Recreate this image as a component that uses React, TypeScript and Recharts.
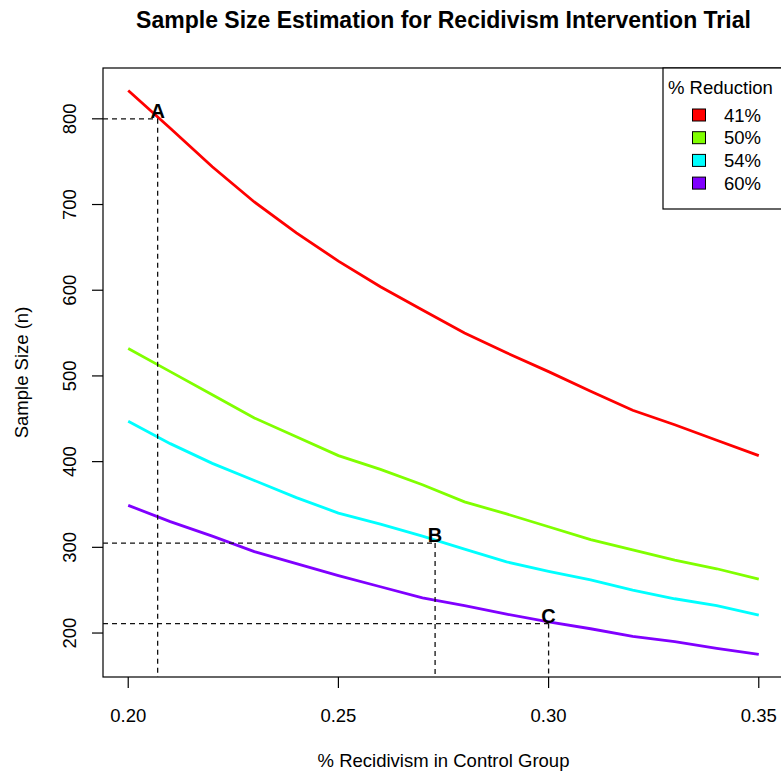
import React from "react";
import { LineChart, Line, XAxis, YAxis, ReferenceLine, ReferenceDot, Customized } from "recharts";

// % recidivism in the control group
const recidivism = [0.2, 0.21, 0.22, 0.23, 0.24, 0.25, 0.26, 0.27, 0.28, 0.29, 0.3, 0.31, 0.32, 0.33, 0.34, 0.35];

// sample size per reduction level
const reduction41 = [833, 789, 744, 703, 667, 634, 604, 577, 550, 527, 505, 482, 460, 443, 425, 407];
const reduction50 = [532, 505, 478, 451, 429, 407, 391, 373, 353, 339, 324, 309, 297, 285, 275, 263];
const reduction54 = [447, 421, 398, 378, 358, 340, 327, 313, 298, 283, 272, 262, 250, 240, 232, 221];
const reduction60 = [349, 330, 313, 295, 281, 267, 254, 241, 232, 222, 213, 205, 196, 190, 182, 175];

const seriesKeys = ["r41", "r50", "r54", "r60"];
const seriesNames = ["41%", "50%", "54%", "60%"];
const seriesColors = ["#FF0000", "#80FF00", "#00FFFF", "#8000FF"];

const xTicks = [0.2, 0.25, 0.3, 0.35];
const yTicks = [200, 300, 400, 500, 600, 700, 800];

const markerLabels = ["A", "B", "C"];
const markerX = [0.207, 0.273, 0.3];
const markerY = [800, 305, 211];

const X_DOMAIN: [number, number] = [0.194, 0.356];
const Y_DOMAIN: [number, number] = [148.7, 859.3];

const data = recidivism.map((p, i) => ({
  p,
  r41: reduction41[i],
  r50: reduction50[i],
  r54: reduction54[i],
  r60: reduction60[i],
}));

const FONT = '"Liberation Sans", Arial, Helvetica, sans-serif';
const FS = 18.5;

// plot region (R base graphics layout)
const PL = 103, PT = 68, PR = 784, PB = 677;

const YTick = (props: any) => {
  const { y, payload } = props;
  return (
    <text transform={`translate(76, ${y}) rotate(-90)`} textAnchor="middle" fontSize={FS} fontFamily={FONT} fill="#000">
      {payload.value}
    </text>
  );
};

const Decorations = () => (
  <g>
    <rect x={PL} y={PT} width={PR - PL} height={PB - PT} fill="none" stroke="#000" strokeWidth={1.2} />
    <text x={(PL + PR) / 2} y={28} textAnchor="middle" fontSize={23} fontWeight="bold" fontFamily={FONT} fill="#000">
      Sample Size Estimation for Recidivism Intervention Trial
    </text>
    <text transform={`translate(28, ${(PT + PB) / 2}) rotate(-90)`} textAnchor="middle" fontSize={FS} fontFamily={FONT} fill="#000">
      Sample Size (n)
    </text>
    <g>
      <rect x={663} y={PT} width={140} height={141} fill="#fff" stroke="#000" strokeWidth={1.2} />
      <text x={668} y={94} fontSize={FS} fontFamily={FONT} fill="#000">% Reduction</text>
      {seriesNames.map((name, i) => {
        const cy = 115 + i * 22.7;
        return (
          <g key={name}>
            <rect x={692.5} y={cy - 6} width={13} height={12} fill={seriesColors[i]} stroke="#000" strokeWidth={1} />
            <text x={724} y={cy + 6.6} fontSize={FS} fontFamily={FONT} fill="#000">{name}</text>
          </g>
        );
      })}
    </g>
  </g>
);

export default function App() {
  return (
    <div style={{ width: 781, height: 773, overflow: "hidden", background: "#fff" }}>
      <style>{`body{margin:0;overflow:hidden;}`}</style>
      <LineChart width={790} height={773} data={data} margin={{ top: PT, right: 790 - PR, bottom: 0, left: 0 }}>
        <XAxis
          dataKey="p"
          type="number"
          domain={X_DOMAIN}
          allowDataOverflow
          ticks={xTicks}
          tickFormatter={(v: number) => v.toFixed(2)}
          axisLine={false}
          tickSize={11}
          tickMargin={21}
          tickLine={{ stroke: "#000", strokeWidth: 1.2 }}
          tick={{ fill: "#000", fontSize: FS, fontFamily: FONT }}
          height={773 - PB}
          label={{ value: "% Recidivism in Control Group", position: "insideBottom", offset: 6, fill: "#000", fontSize: FS, fontFamily: FONT }}
        />
        <YAxis
          type="number"
          domain={Y_DOMAIN}
          allowDataOverflow
          ticks={yTicks}
          axisLine={false}
          tickSize={11}
          tickLine={{ stroke: "#000", strokeWidth: 1.2 }}
          tick={<YTick />}
          width={PL}
        />
        {seriesKeys.map((k, i) => (
          <Line
            key={k}
            type="linear"
            dataKey={k}
            name={seriesNames[i]}
            stroke={seriesColors[i]}
            strokeWidth={2.8}
            dot={false}
            activeDot={false}
            isAnimationActive={false}
          />
        ))}
        {markerLabels.map((m, i) => (
          <ReferenceLine
            key={`h${m}`}
            segment={[{ x: X_DOMAIN[0], y: markerY[i] }, { x: markerX[i], y: markerY[i] }]}
            stroke="#111"
            strokeWidth={1.3}
            strokeDasharray="5 4"
            ifOverflow="visible"
          />
        ))}
        {markerLabels.map((m, i) => (
          <ReferenceLine
            key={`v${m}`}
            segment={[{ x: markerX[i], y: markerY[i] }, { x: markerX[i], y: Y_DOMAIN[0] }]}
            stroke="#111"
            strokeWidth={1.3}
            strokeDasharray="5 4"
            ifOverflow="visible"
          />
        ))}
        {markerLabels.map((m, i) => (
          <ReferenceDot
            key={`d${m}`}
            x={markerX[i]}
            y={markerY[i]}
            r={0}
            fill="none"
            stroke="none"
            label={{ value: m, position: "top", offset: 1, fill: "#000", fontSize: 20, fontWeight: "bold", fontFamily: FONT }}
          />
        ))}
        <Customized component={Decorations} />
      </LineChart>
    </div>
  );
}
